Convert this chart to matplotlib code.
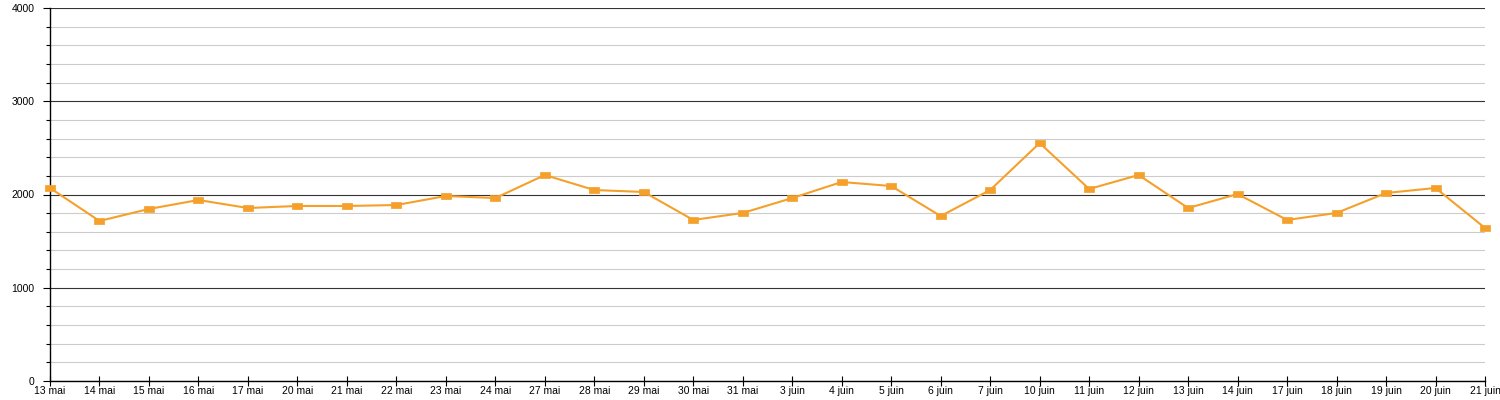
import matplotlib
matplotlib.use("Agg")
import matplotlib.pyplot as plt
from matplotlib.ticker import MultipleLocator

DATES = [
    "13 mai", "14 mai", "15 mai", "16 mai", "17 mai", "20 mai", "21 mai",
    "22 mai", "23 mai", "24 mai", "27 mai", "28 mai", "29 mai", "30 mai",
    "31 mai", "3 juin", "4 juin", "5 juin", "6 juin", "7 juin", "10 juin",
    "11 juin", "12 juin", "13 juin", "14 juin", "17 juin", "18 juin",
    "19 juin", "20 juin", "21 juin",
]
VALUES = [
    2070, 1716, 1845, 1941, 1855, 1877, 1877, 1887, 1984, 1962,
    2209, 2048, 2027, 1727, 1802, 1962, 2134, 2091, 1769, 2048,
    2552, 2059, 2209, 1855, 2005, 1727, 1802, 2016, 2070, 1641,
]

ORANGE = "#f5a02a"
# flat rectangle marker, wider than tall
RECT = [(-1, -0.6), (1, -0.6), (1, 0.6), (-1, 0.6), (-1, -0.6)]

plt.rcParams["font.family"] = ["Liberation Sans", "DejaVu Sans"]

fig = plt.figure(figsize=(15, 4), dpi=100)
ax = fig.add_axes([50 / 1500, 19 / 400, 1435 / 1500, 373 / 400])

x = list(range(len(DATES)))
ax.plot(x, VALUES, "-", color=ORANGE, lw=1.5, marker=RECT, ms=7,
        mfc=ORANGE, mec=ORANGE, mew=0.5, zorder=3, clip_on=False)

ax.set_xlim(0, len(DATES) - 1)
ax.set_ylim(0, 4000)
ax.set_xticks(x)
ax.set_xticklabels(DATES, fontsize=7.5)
ax.yaxis.set_major_locator(MultipleLocator(1000))
ax.yaxis.set_minor_locator(MultipleLocator(200))
ax.tick_params(axis="y", labelsize=7.5, length=5, width=0.8, pad=6)
ax.tick_params(axis="y", which="minor", length=3, width=0.8)
ax.tick_params(axis="x", direction="inout", length=7, width=0.8, pad=0)

ax.grid(axis="y", which="minor", color="#cccccc", lw=0.8)
ax.grid(axis="y", which="major", color="#333333", lw=0.8)
ax.set_axisbelow(True)

for side in ("top", "right"):
    ax.spines[side].set_visible(False)
for side in ("left", "bottom"):
    ax.spines[side].set_linewidth(1.0)
    ax.spines[side].set_color("black")

fig.savefig("out.png", dpi=100)
